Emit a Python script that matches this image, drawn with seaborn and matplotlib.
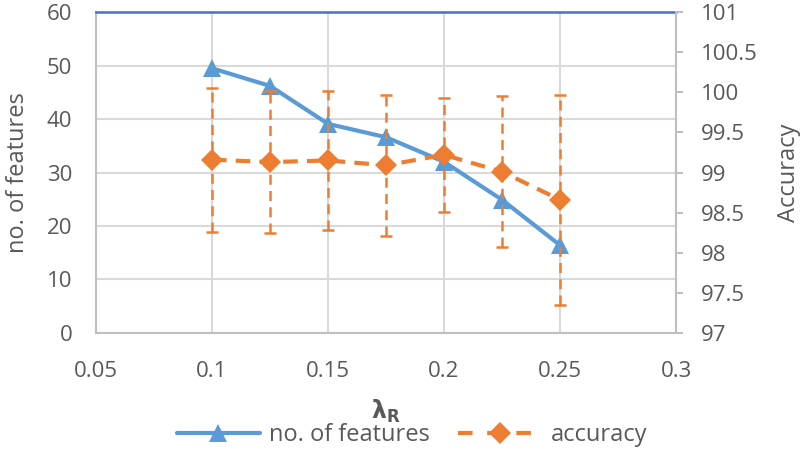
import numpy as np
import pandas as pd
import matplotlib
matplotlib.use("Agg")
import matplotlib.pyplot as plt
import seaborn as sns
from matplotlib.lines import Line2D

# values
lambda_r = [0.1, 0.125, 0.15, 0.175, 0.2, 0.225, 0.25]
n_features = [49.5, 46.2, 39.1, 36.6, 32.0, 24.9, 16.4]
accuracy = [99.16, 99.13, 99.15, 99.09, 99.22, 99.01, 98.66]
acc_err = [0.90, 0.89, 0.87, 0.88, 0.71, 0.94, 1.31]

x_ticks = [0.05, 0.1, 0.15, 0.2, 0.25, 0.3]
x_labels = ["0.05", "0.1", "0.15", "0.2", "0.25", "0.3"]
left_ticks = [0, 10, 20, 30, 40, 50, 60]
right_ticks = [97, 97.5, 98, 98.5, 99, 99.5, 100, 100.5, 101]
right_labels = ["97", "97.5", "98", "98.5", "99", "99.5", "100", "100.5", "101"]

BLUE = "#5B9BD5"
ORANGE = "#ED7D31"
GRID = "#D9D9D9"
TEXT = "#595959"

sns.set_theme(style="white")
plt.rcParams["font.family"] = ["Open Sans", "DejaVu Sans"]

df = pd.DataFrame({"lambda": lambda_r, "features": n_features, "acc": accuracy})

fig = plt.figure(figsize=(8, 4.51), dpi=100)
ax = fig.add_axes([0.12, 0.262, 0.725, 0.711])
ax2 = ax.twinx()

sns.lineplot(data=df, x="lambda", y="features", ax=ax, color=BLUE, linewidth=3,
             marker="^", markersize=13, markeredgewidth=0, zorder=3)

eb = ax2.errorbar(df["lambda"], df["acc"], yerr=acc_err, color=ORANGE,
                  linestyle=(0, (3.5, 2.2)), linewidth=3, marker="D", markersize=11,
                  ecolor=ORANGE, elinewidth=1.8, capsize=4, capthick=1.8, zorder=3)
eb[0].set_markeredgewidth(0)
for col in eb[2]:
    col.set_linestyle((0, (4, 2.5)))

ax.set_xlim(0.05, 0.3)
ax.set_ylim(0, 60)
ax2.set_ylim(97, 101)
ax.set_xticks(x_ticks)
ax.set_xticklabels(x_labels)
ax.set_yticks(left_ticks)
ax2.set_yticks(right_ticks)
ax2.set_yticklabels(right_labels)

ax.grid(True, color=GRID, linewidth=1.5)
ax.set_axisbelow(True)
ax2.grid(False)

for a in (ax, ax2):
    for s in a.spines.values():
        s.set_visible(False)
ax.spines["left"].set_visible(True)
ax.spines["bottom"].set_visible(True)
ax2.spines["right"].set_visible(True)
ax.spines["top"].set_visible(True)
for s in ("left", "bottom"):
    ax.spines[s].set_color("#BFBFBF")
    ax.spines[s].set_linewidth(1.5)
ax2.spines["right"].set_color("#BFBFBF")
ax2.spines["right"].set_linewidth(1.5)
ax.spines["top"].set_color("#4472C4")
ax.spines["top"].set_linewidth(1.8)

ax.tick_params(axis="y", length=0, labelsize=16, labelcolor=TEXT, pad=17)
ax.tick_params(axis="x", length=0, labelsize=16, labelcolor=TEXT, pad=20)
ax2.tick_params(axis="y", length=5, width=1.5, color="#BFBFBF", direction="out",
                labelsize=16, labelcolor=TEXT, pad=13)

ax.set_xlabel(r"$\mathbf{\lambda_R}$", fontsize=17, color=TEXT, labelpad=12)
ax.set_ylabel("no. of features", fontsize=17, color=TEXT, labelpad=12)
ax2.set_ylabel("Accuracy", fontsize=17, color=TEXT, labelpad=14)

handles = [
    Line2D([], [], color=BLUE, linewidth=3, marker="^", markersize=13, markeredgewidth=0),
    Line2D([], [], color=ORANGE, linewidth=3, linestyle=(0, (3.5, 3.5)), marker="D",
           markersize=11, markeredgewidth=0),
]
fig.legend(handles, ["no. of features", "accuracy"], loc="center",
           bbox_to_anchor=(0.515, 0.035), ncol=2, frameon=False, fontsize=17,
           labelcolor=TEXT, handlelength=3.5, columnspacing=1.2, handletextpad=0.4)

fig.savefig("out.png", dpi=100)
